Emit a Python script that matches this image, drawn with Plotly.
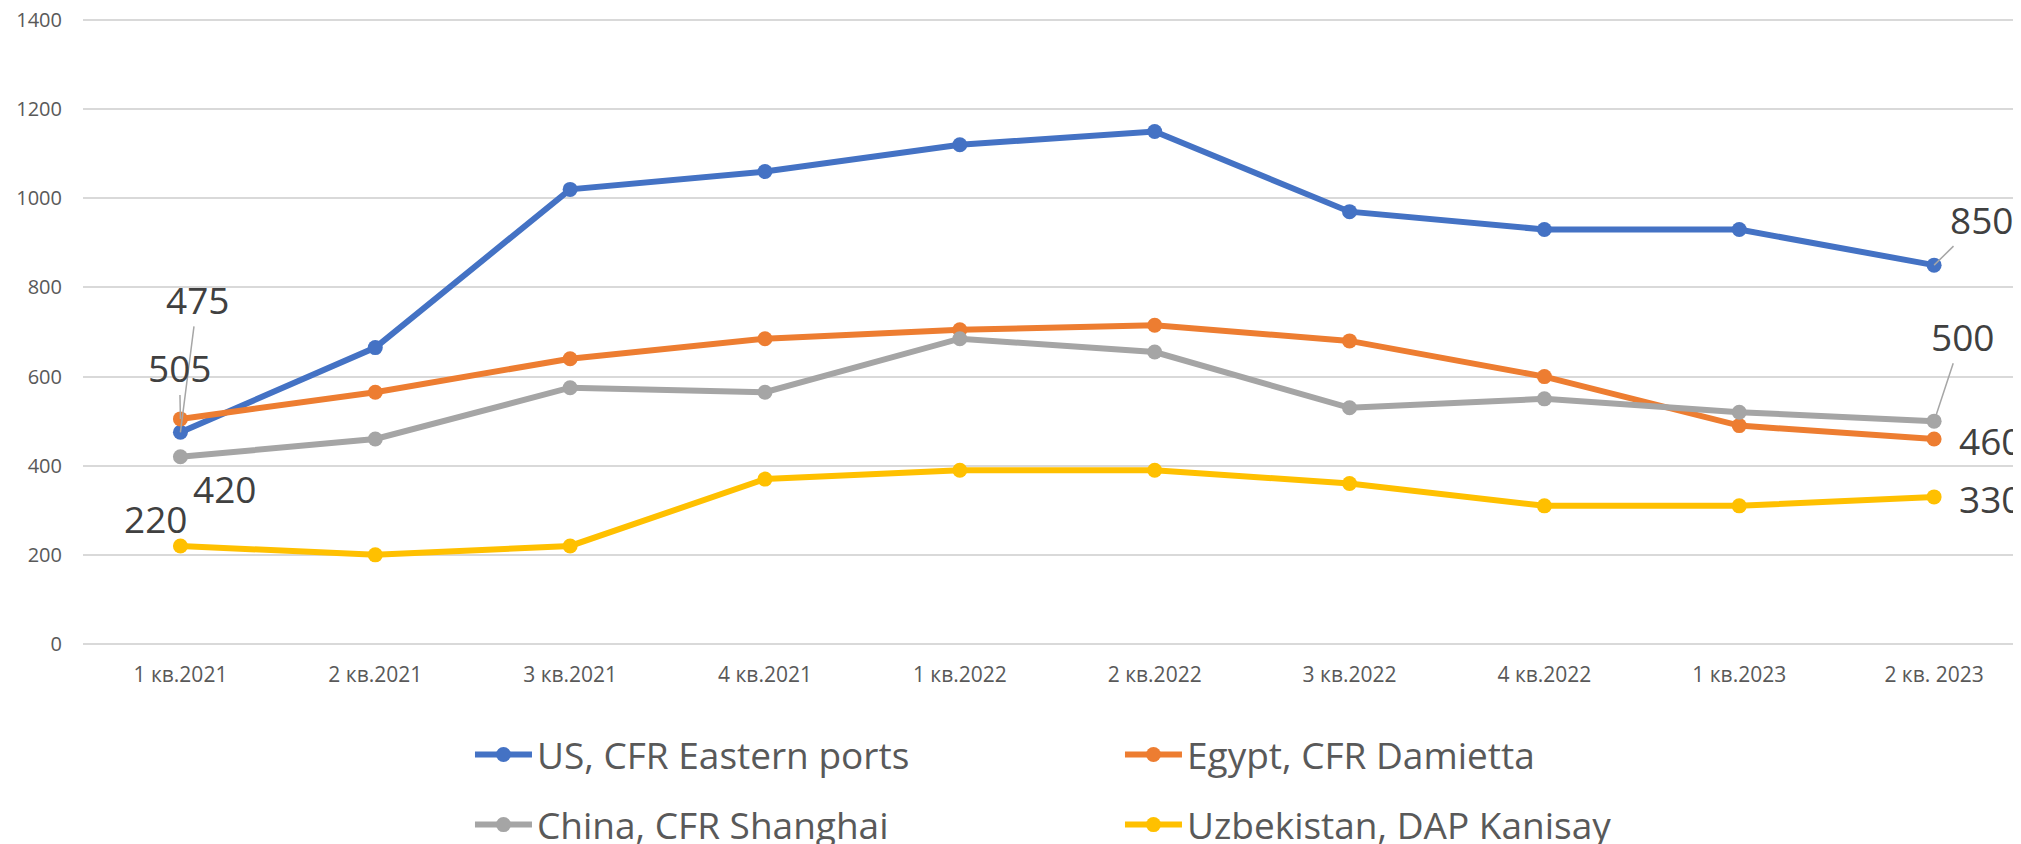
import plotly.graph_objects as go

# ---------------- data ----------------
categories = ["1 кв.2021", "2 кв.2021", "3 кв.2021", "4 кв.2021", "1 кв.2022",
              "2 кв.2022", "3 кв.2022", "4 кв.2022", "1 кв.2023", "2 кв. 2023"]
us_cfr_eastern = [475, 665, 1020, 1060, 1120, 1150, 970, 930, 930, 850]
egypt_cfr_damietta = [505, 565, 640, 685, 705, 715, 680, 600, 490, 460]
china_cfr_shanghai = [420, 460, 575, 565, 685, 655, 530, 550, 520, 500]
uzbekistan_dap_kanisay = [220, 200, 220, 370, 390, 390, 360, 310, 310, 330]
series_names = ["US, CFR Eastern ports", "Egypt, CFR Damietta",
                "China, CFR Shanghai", "Uzbekistan, DAP Kanisay"]
y_ticks = [0, 200, 400, 600, 800, 1000, 1200, 1400]

# ---------------- styles ----------------
series_values = [us_cfr_eastern, egypt_cfr_damietta, china_cfr_shanghai, uzbekistan_dap_kanisay]
colors = ["#4472C4", "#ED7D31", "#A5A5A5", "#FFC000"]
legend_ids = ["legend", "legend2", "legend3", "legend4"]
legend_pos = [(0.2295, 0.1065), (0.5524, 0.1065), (0.2295, 0.0227), (0.5524, 0.0227)]
# label offsets (pixels) for first and last point of each series, and whether a leader line shows
label_offsets = [
    [(17, -133, True), (47, -46, True)],
    [(-1, -51, True), (56, 2, False)],
    [(44, 32, False), (28, -85, True)],
    [(-25, -27, False), (56, 2, False)],
]

fig = go.Figure()
annotations = []
for name, vals, col, lid, offs in zip(series_names, series_values, colors, legend_ids, label_offsets):
    fig.add_trace(go.Scatter(
        x=categories, y=vals, name=name, mode="lines+markers",
        line=dict(color=col, width=6),
        marker=dict(color=col, size=15),
        legend=lid, hoverinfo="skip",
    ))
    for idx, (ax, ay, leader) in zip([0, len(vals) - 1], offs):
        annotations.append(dict(
            x=categories[idx], y=vals[idx], xref="x", yref="y",
            text=str(vals[idx]), showarrow=True, arrowhead=0,
            arrowwidth=1.5,
            arrowcolor="#A6A6A6" if leader else "rgba(0,0,0,0)",
            ax=ax, ay=ay, standoff=0, startstandoff=0,
            font=dict(family="Open Sans", size=37, color="#404040"),
        ))

legend_common = dict(
    orientation="h", xref="container", yref="container",
    xanchor="left", yanchor="middle", itemwidth=57,
    font=dict(family="Open Sans", size=37, color="#595959"),
    bgcolor="rgba(0,0,0,0)", borderwidth=0,
)
layout_legends = {}
for lid, (lx, ly) in zip(legend_ids, legend_pos):
    layout_legends[lid] = dict(legend_common, x=lx, y=ly)

fig.update_layout(
    width=2013, height=836,
    margin=dict(l=75, r=0, t=6, b=200, autoexpand=False),
    paper_bgcolor="white", plot_bgcolor="white",
    showlegend=True,
    annotations=annotations,
    **layout_legends,
)
fig.update_xaxes(
    type="category", categoryorder="array", categoryarray=categories,
    range=[-0.5, 9.446], showgrid=False, zeroline=False, showline=False,
    ticks="", ticklabelstandoff=16,
    tickfont=dict(family="Open Sans", size=21, color="#595959"),
)
fig.update_yaxes(
    range=[0, 1413.5], tickvals=y_ticks, showgrid=True, gridcolor="#D9D9D9", gridwidth=1.5,
    zeroline=True, zerolinecolor="#D9D9D9", zerolinewidth=1.5, showline=False,
    ticks="", ticklabelstandoff=20, ticklabeloverflow="allow",
    tickfont=dict(family="Open Sans", size=20, color="#595959"),
)

fig.write_html("out.html")
